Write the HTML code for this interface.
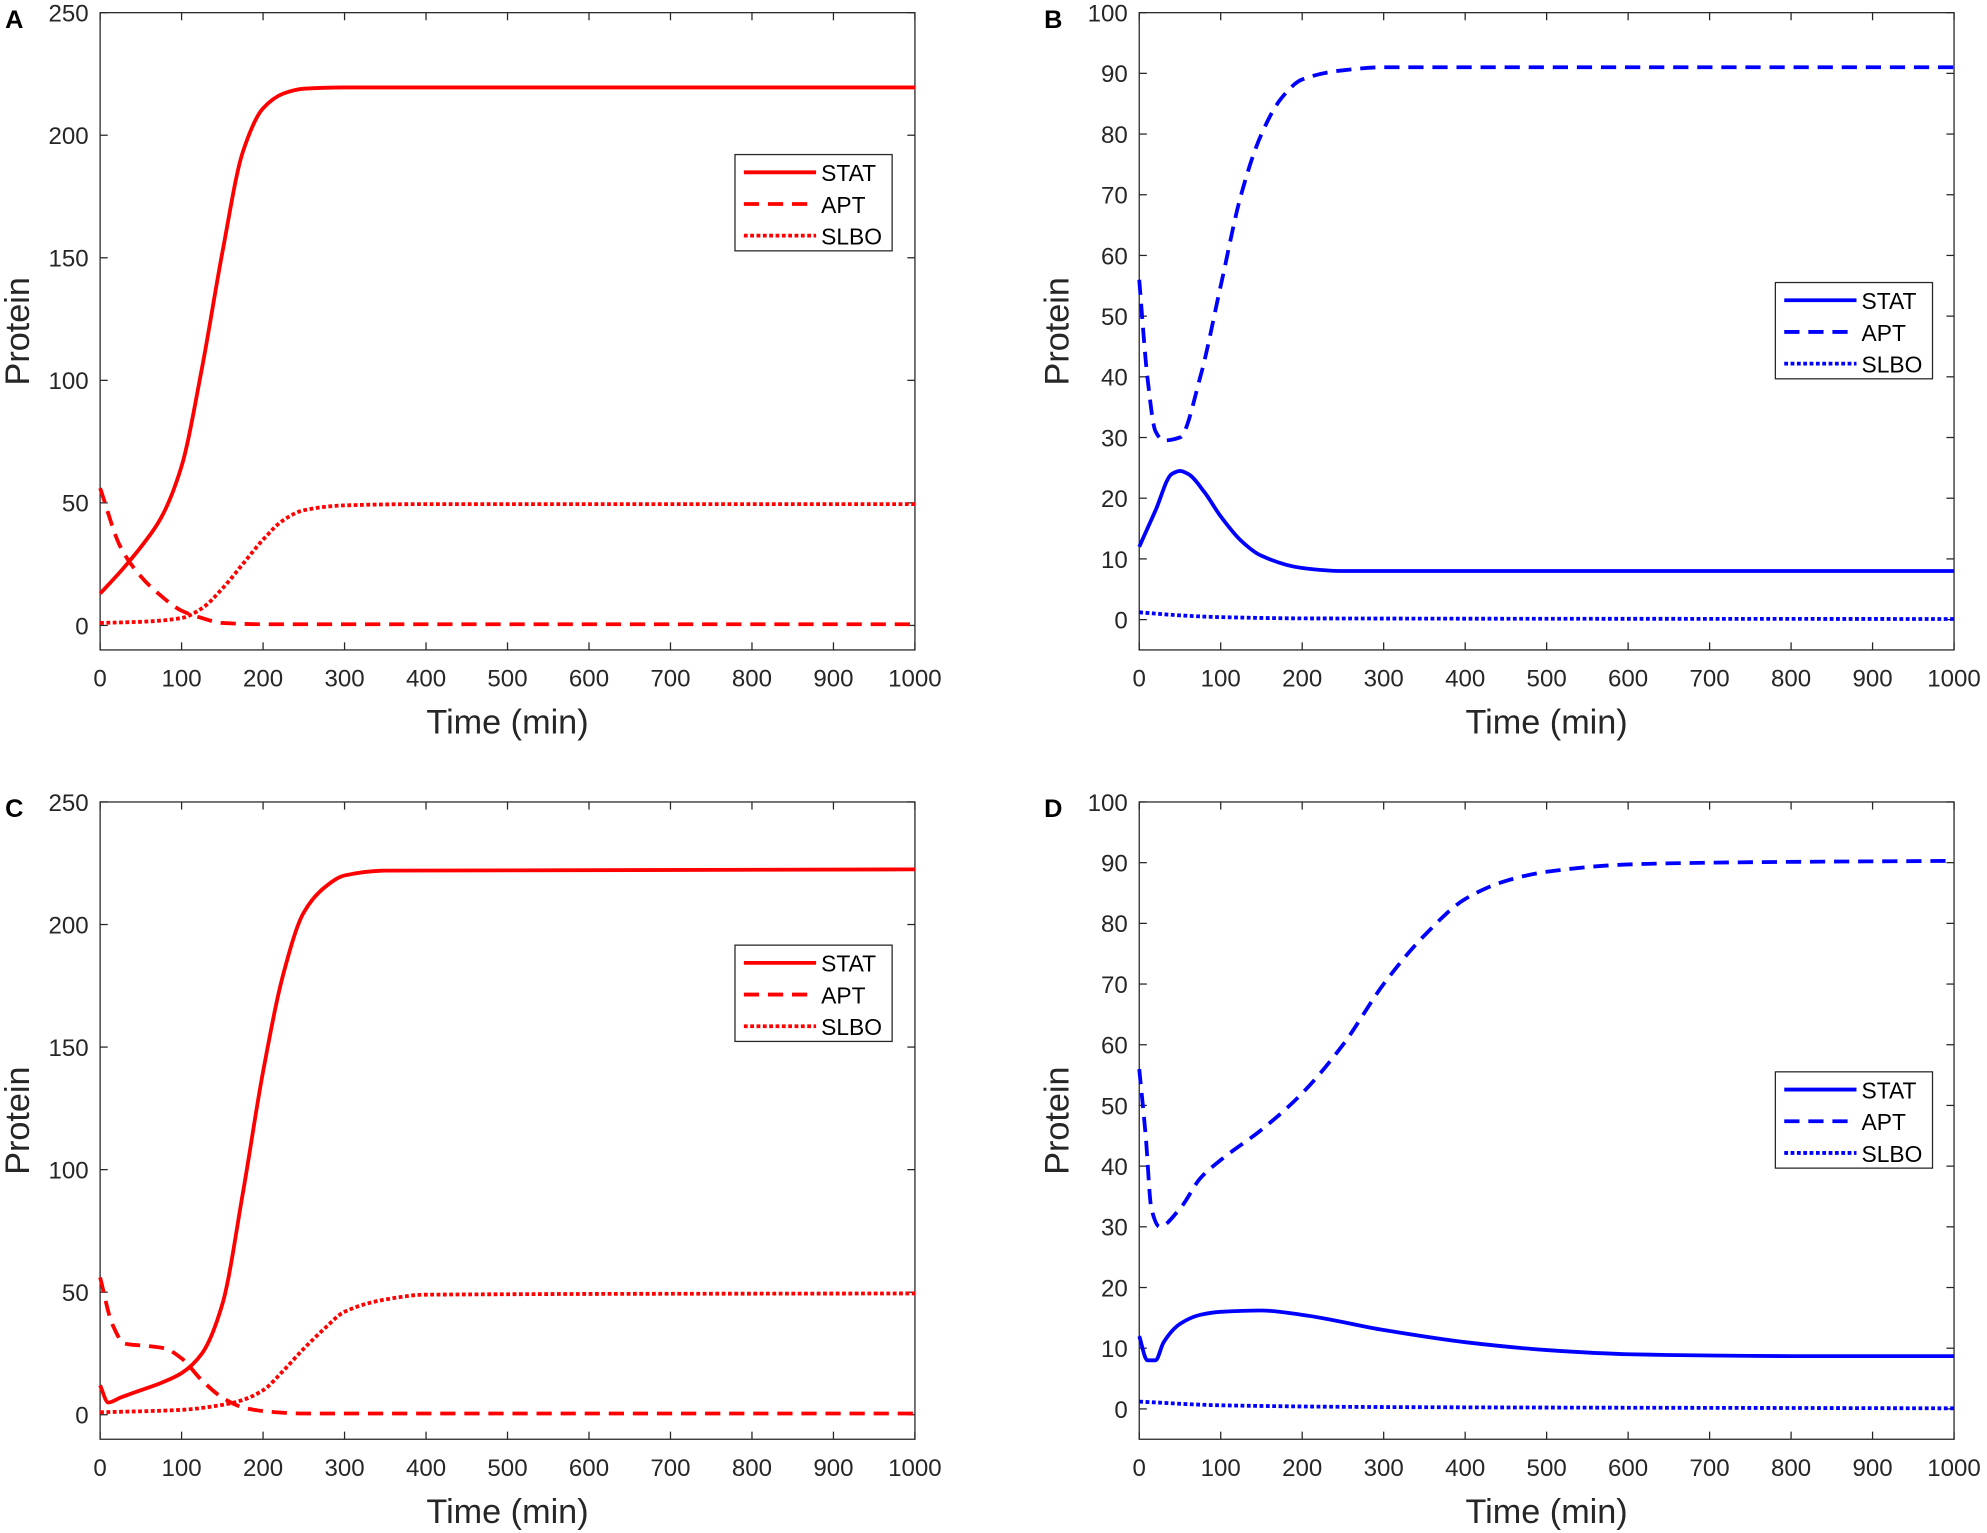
<!DOCTYPE html>
<html><head><meta charset="utf-8"><style>
html,body{margin:0;padding:0;background:#fff}
svg{display:block;font-family:"Liberation Sans",sans-serif}
</style></head><body>
<svg id="fig" width="1987" height="1533" viewBox="0 0 1568 1210" preserveAspectRatio="none" xmlns="http://www.w3.org/2000/svg"></svg>
<script>
// ---- data ----
const xTicks = [0,100,200,300,400,500,600,700,800,900,1000];
const yTicksRed = [0,50,100,150,200,250];
const yTicksBlue = [0,10,20,30,40,50,60,70,80,90,100];
const seriesNames = ['STAT','APT','SLBO'];

const aStatT = [0,25,50,75,100,125,150,175,200,225,250,300,1000];
const aStatV = [13,22,32,44,65,105,152,193,211,217,219,219.5,219.5];
const aAptT = [0,25,50,75,100,125,150,200,1000];
const aAptV = [56,32,20,12,6,3,1,0.5,0.5];
const aSlboT = [0,50,100,125,150,175,200,225,250,300,400,1000];
const aSlboV = [1,1.5,3,7,15,25,35,43,47,49,49.5,49.5];

const bStatT = [0,20,40,50,60,80,100,125,150,200,250,1000];
const bStatV = [12,18,24,24.5,24,21,17,13,10.5,8.5,8,8];
const bAptT = [0,10,20,30,50,75,100,125,150,175,200,250,300,1000];
const bAptV = [56,40,31,29.5,30,40,55,70,80,86,89,90.5,91,91];
const bSlboT = [0,50,100,200,1000];
const bSlboV = [1.2,0.7,0.4,0.2,0.1];

const cStatT = [0,10,25,50,75,100,125,150,175,200,225,250,275,300,350,1000];
const cStatV = [12,5,7,10,13,17,25,45,90,140,180,205,215,220,222,222.5];
const cAptT = [0,15,30,60,80,100,125,150,175,200,250,1000];
const cAptV = [56,37,29,28,27,23,14,7,3,1.5,0.5,0.5];
const cSlboT = [0,100,150,175,200,225,250,275,300,350,400,1000];
const cSlboV = [1,2,4,6,10,18,27,35,42,47,49,49.5];

const dStatT = [0,10,20,30,50,75,100,150,200,300,400,500,600,700,800,1000];
const dStatV = [12,8,8,11,14,15.5,16,16.2,15.5,13,11,9.7,9,8.8,8.7,8.7];
const dAptT = [0,8,15,25,50,75,100,150,200,250,300,350,400,450,500,600,700,1000];
const dAptV = [56,45,33,30,33,38,41,46,52,60,70,78,84,87,88.5,89.7,90,90.3];
const dSlboT = [0,100,300,1000];
const dSlboV = [1.2,0.6,0.3,0.1];

const NS='http://www.w3.org/2000/svg';
const svg=document.getElementById('fig');
function mk(tag,attrs,parent){const e=document.createElementNS(NS,tag);for(const k in attrs)e.setAttribute(k,attrs[k]);(parent||svg).appendChild(e);return e;}

const dashes={STAT:'none',APT:'12 7',SLBO:'3 2'};

// monotone cubic path (Fritsch-Carlson)
function monoPath(xs,ys){
  const n=xs.length;
  if(n<2)return '';
  const d=[],m=new Array(n);
  for(let i=0;i<n-1;i++)d.push((ys[i+1]-ys[i])/(xs[i+1]-xs[i]));
  m[0]=d[0];m[n-1]=d[n-2];
  for(let i=1;i<n-1;i++){
    if(d[i-1]*d[i]<=0)m[i]=0;
    else{const h0=xs[i]-xs[i-1],h1=xs[i+1]-xs[i];
      const w1=2*h1+h0,w2=h1+2*h0;m[i]=(w1+w2)/(w1/d[i-1]+w2/d[i]);}
  }
  let p='M'+xs[0].toFixed(1)+','+ys[0].toFixed(1);
  for(let i=0;i<n-1;i++){
    const h=(xs[i+1]-xs[i])/3;
    p+=' C'+(xs[i]+h).toFixed(1)+','+(ys[i]+m[i]*h).toFixed(1)+' '+(xs[i+1]-h).toFixed(1)+','+(ys[i+1]-m[i+1]*h).toFixed(1)+' '+xs[i+1].toFixed(1)+','+ys[i+1].toFixed(1);
  }
  return p;
}

function panel(id,letter,x0,y0,color,ymin,ymax,yticks,data,leg){
  const w=643,h=503;
  const g=mk('g',{});
  
  
  const sx=t=>x0+t/1000*w;
  const sy=v=>y0+(ymax-v)/(ymax-ymin)*h;
  const box=mk('rect',{x:x0,y:y0,width:w,height:h,fill:'none',stroke:'#262626','stroke-width':1},g);
  
  
  xTicks.forEach(t=>{
    mk('line',{x1:sx(t),x2:sx(t),y1:y0+h,y2:y0+h-6,stroke:'#262626'},g);
    mk('line',{x1:sx(t),x2:sx(t),y1:y0,y2:y0+6,stroke:'#262626'},g);
    const tx=mk('text',{x:sx(t),y:y0+h+29,'text-anchor':'middle','font-size':19,fill:'#262626'},g);
    tx.textContent=t;
    
    
  });
  yticks.forEach(v=>{
    mk('line',{x1:x0,x2:x0+6,y1:sy(v),y2:sy(v),stroke:'#262626'},g);
    mk('line',{x1:x0+w,x2:x0+w-6,y1:sy(v),y2:sy(v),stroke:'#262626'},g);
    const tx=mk('text',{x:x0-9,y:sy(v)+7,'text-anchor':'end','font-size':19,fill:'#262626'},g);
    tx.textContent=v;
    
    
  });
  const xt=mk('text',{x:x0+w/2,y:y0+h+66,'text-anchor':'middle','font-size':27,fill:'#262626'},g);
  xt.textContent='Time (min)';
  
  
  const yt=mk('text',{x:0,y:0,'text-anchor':'middle','font-size':27,fill:'#262626',transform:`translate(${x0-56},${y0+h/2}) rotate(-90)`},g);
  yt.textContent='Protein';
  
  
  const pl=mk('text',{x:x0-75,y:y0+12,'font-size':20,'font-weight':'bold',fill:'#000'},g);
  pl.textContent=letter;
  
  
  data.forEach((d,i)=>{
    const p=mk('path',{d:monoPath(d[0].map(sx),d[1].map(sy)),fill:'none',stroke:color,'stroke-width':3,'stroke-dasharray':dashes[seriesNames[i]],'stroke-linejoin':'round'},g);
    
    
  });
  const lg=mk('g',{},g);
  
  
  mk('rect',{x:leg[0],y:leg[1],width:124,height:76,fill:'#fff',stroke:'#262626'},lg);
  seriesNames.forEach((n,i)=>{
    const yy=leg[1]+14+i*25;
    mk('line',{x1:leg[0]+7,x2:leg[0]+64,y1:yy,y2:yy,stroke:color,'stroke-width':3,'stroke-dasharray':dashes[n]},lg);
    const tx=mk('text',{x:leg[0]+68,y:yy+7,'font-size':18,fill:'#000'},lg);
    tx.textContent=n;
    
    
  });
}
panel('a','A',79,10,'#ff0000',-10,250,yTicksRed,[[aStatT,aStatV],[aAptT,aAptV],[aSlboT,aSlboV]],[580,122]);
panel('b','B',899,10,'#0000ff',-5,100,yTicksBlue,[[bStatT,bStatV],[bAptT,bAptV],[bSlboT,bSlboV]],[1401,223]);
panel('c','C',79,633,'#ff0000',-10,250,yTicksRed,[[cStatT,cStatV],[cAptT,cAptV],[cSlboT,cSlboV]],[580,746]);
panel('d','D',899,633,'#0000ff',-5,100,yTicksBlue,[[dStatT,dStatV],[dAptT,dAptV],[dSlboT,dSlboV]],[1401,846]);
</script>
</body></html>
